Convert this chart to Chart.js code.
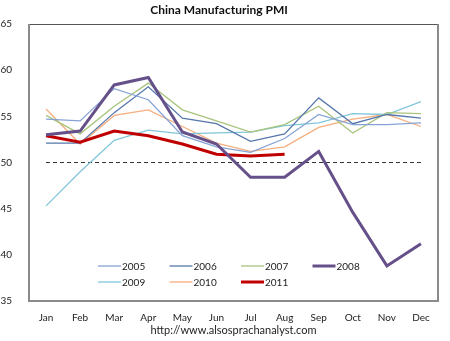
<!DOCTYPE html>
<html>
<head>
<meta charset="utf-8">
<script src="https://cdn.jsdelivr.net/npm/chart.js@4"></script>
<style>
  html, body { margin: 0; padding: 0; background: #fff; }
  #wrap { width: 450px; height: 341px; }
</style>
</head>
<body>
<div id="wrap"><canvas id="pmiChart" width="450" height="341"></canvas></div>
<script>
const months = ["Jan", "Feb", "Mar", "Apr", "May", "Jun", "Jul", "Aug", "Sep", "Oct", "Nov", "Dec"];
const yTicks = [35, 40, 45, 50, 55, 60, 65];

const pmi2005 = [54.7, 54.5, 58.0, 56.8, 52.9, 51.7, 51.1, 52.6, 55.2, 54.1, 54.1, 54.3];
const pmi2006 = [52.1, 52.1, 55.4, 58.2, 54.8, 54.2, 52.3, 53.1, 57.0, 54.2, 55.2, 54.8];
const pmi2007 = [55.1, 53.1, 56.1, 58.6, 55.7, 54.5, 53.3, 54.1, 56.1, 53.2, 55.4, 55.3];
const pmi2008 = [53.0, 53.4, 58.4, 59.2, 53.3, 52.0, 48.4, 48.4, 51.2, 44.6, 38.8, 41.2];
const pmi2009 = [45.3, 49.0, 52.4, 53.5, 53.1, 53.2, 53.3, 54.0, 54.3, 55.3, 55.2, 56.6];
const pmi2010 = [55.8, 52.0, 55.1, 55.7, 53.9, 52.1, 51.2, 51.7, 53.8, 54.7, 55.2, 53.9];
const pmi2011 = [52.9, 52.2, 53.4, 52.9, 52.0, 50.9, 50.7, 50.9];
const threshold = [50, 50, 50, 50, 50, 50, 50, 50, 50, 50, 50, 50];

const FONT = "Lato, 'Open Sans', sans-serif";

function series(label, data, color, width, order) {
  return {
    label, data,
    borderColor: color,
    backgroundColor: color,
    borderWidth: width,
    pointRadius: 0,
    tension: 0,
    fill: false,
    order
  };
}

// legend drawn inside the plot, 4 columns x 2 rows
const insideLegend = {
  id: "insideLegend",
  afterDraw(chart) {
    const ctx = chart.ctx;
    const items = chart.data.datasets.filter(d => d.label);
    ctx.save();
    ctx.font = "10px " + FONT;
    ctx.textBaseline = "middle";
    ctx.fillStyle = "#222";
    items.forEach((d, i) => {
      const col = i % 4, row = Math.floor(i / 4);
      const x = 98 + col * 71.5;
      const y = 266 + row * 16;
      ctx.strokeStyle = d.borderColor;
      ctx.lineWidth = d.borderWidth;
      ctx.beginPath();
      ctx.moveTo(x, y);
      ctx.lineTo(x + 23, y);
      ctx.stroke();
      ctx.fillText(d.label, x + 24, y + 0.5);
    });
    ctx.restore();
  }
};

const frame = {
  id: "frame",
  afterDraw(chart) {
    const { left, right, top, bottom } = chart.chartArea;
    const ctx = chart.ctx;
    ctx.save();
    ctx.strokeStyle = "#555";
    ctx.lineWidth = 1;
    ctx.beginPath();
    ctx.moveTo(left, top + 0.5);
    ctx.lineTo(right, top + 0.5);
    ctx.stroke();
    ctx.strokeStyle = "#8a8a8a";
    ctx.lineWidth = 2;
    ctx.beginPath();
    ctx.moveTo(left, top);
    ctx.lineTo(left, bottom);
    ctx.lineTo(right, bottom);
    ctx.lineTo(right, top);
    ctx.stroke();
    ctx.restore();
  }
};

new Chart(document.getElementById("pmiChart"), {
  type: "line",
  data: {
    labels: months,
    datasets: [
      series("2005", pmi2005, "#86a3d6", 1.3, 2),
      series("2006", pmi2006, "#5577ab", 1.3, 2),
      series("2007", pmi2007, "#a8c47c", 1.3, 2),
      series("2008", pmi2008, "#65508a", 3, 0),
      series("2009", pmi2009, "#80c6d8", 1.3, 2),
      series("2010", pmi2010, "#f5ae7e", 1.3, 2),
      series("2011", pmi2011, "#c00000", 3, 0),
      {
        label: "",
        data: threshold,
        borderColor: "#333",
        borderWidth: 1,
        borderDash: [4, 3],
        pointRadius: 0,
        fill: false,
        order: 3
      }
    ]
  },
  options: {
    responsive: false,
    animation: false,
    layout: { padding: { left: 0, right: 12, top: 0, bottom: 0 } },
    plugins: {
      legend: { display: false },
      tooltip: { enabled: false },
      title: {
        display: true,
        text: "China Manufacturing PMI",
        color: "#111",
        font: { family: FONT, size: 12, weight: "bold" },
        padding: { top: 3, bottom: 6.6 }
      }
    },
    scales: {
      x: {
        offset: true,
        grid: { display: false },
        border: { display: false },
        ticks: {
          color: "#222",
          font: { family: FONT, size: 10 },
          padding: 3,
          maxRotation: 0,
          autoSkip: false
        },
        title: {
          display: true,
          text: "http://www.alsosprachanalyst.com",
          color: "#222",
          font: { family: FONT, size: 11 },
          padding: { top: 0, bottom: 4 }
        },
        afterFit(scale) { scale.height = 40; }
      },
      y: {
        min: 35,
        max: 65,
        grid: { display: false },
        border: { display: false },
        afterBuildTicks(scale) { scale.ticks = yTicks.map(v => ({ value: v })); },
        ticks: {
          color: "#222",
          font: { family: FONT, size: 10 },
          padding: 9
        },
        afterFit(scale) { scale.width = 29; }
      }
    }
  },
  plugins: [insideLegend, frame]
});
</script>
</body>
</html>
